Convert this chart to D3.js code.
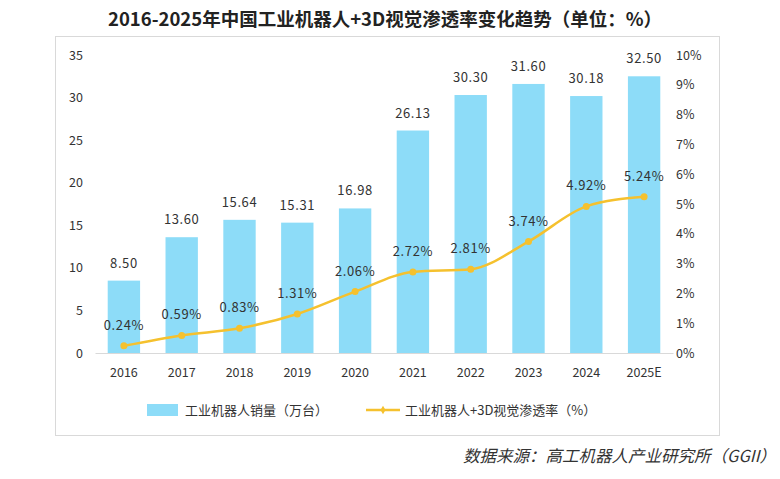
<!DOCTYPE html>
<html>
<head>
<meta charset="utf-8">
<title>工业机器人+3D视觉渗透率</title>
<script src="https://cdn.jsdelivr.net/npm/d3@7"></script>
<style>
  body { margin: 0; background: #fff; }
  text { font-family: "Noto Sans CJK SC", "Noto Sans", sans-serif; }
</style>
</head>
<body>
<script>
    // chart data
    var years = ["2016", "2017", "2018", "2019", "2020", "2021", "2022", "2023", "2024", "2025E"];
    var sales = [8.50, 13.60, 15.64, 15.31, 16.98, 26.13, 30.30, 31.60, 30.18, 32.50];
    var rate = [0.24, 0.59, 0.83, 1.31, 2.06, 2.72, 2.81, 3.74, 4.92, 5.24];
    var leftTicks = [0, 5, 10, 15, 20, 25, 30, 35];
    var rightTicks = [0, 1, 2, 3, 4, 5, 6, 7, 8, 9, 10];

    var width = 780, height = 479;
    var margins = {top: 55, left: 95, right: 107, bottom: 126};

    var barColor = "#8ddcf8", lineColor = "#f5c12e", textColor = "#333";

    var svg = d3.select("body").append("svg")
            .attr("width", width)
            .attr("height", height);

    // outer frame
    svg.append("rect")
            .attr("x", 55.5).attr("y", 36.5)
            .attr("width", 664).attr("height", 399)
            .attr("fill", "none")
            .attr("stroke", "#d9d9d9");

    svg.append("text")
            .attr("x", 385).attr("y", 26)
            .attr("text-anchor", "middle")
            .style("font-size", "18.5px")
            .style("font-weight", "bold")
            .attr("fill", "#222")
            .text("2016-2025年中国工业机器人+3D视觉渗透率变化趋势（单位：%）");

    var x = d3.scaleBand().domain(years)
            .range([margins.left, width - margins.right])
            .paddingInner(0.44).paddingOuter(0.22);
    var y = d3.scaleLinear().domain([0, 35]).range([height - margins.bottom, margins.top]);
    var y2 = d3.scaleLinear().domain([0, 10]).range([height - margins.bottom, margins.top]);

    var x0 = height - margins.bottom;

    // left axis
    var yAxis = svg.append("g")
            .attr("transform", "translate(" + (margins.left - 12) + ",0)")
            .call(d3.axisLeft(y).tickValues(leftTicks).tickSize(0).tickPadding(0));
    yAxis.select(".domain").remove();

    // right axis
    var y2Axis = svg.append("g")
            .attr("transform", "translate(" + (width - margins.right + 3) + ",0)")
            .call(d3.axisRight(y2).tickValues(rightTicks).tickSize(0).tickPadding(0)
                .tickFormat(function (d) { return d + "%"; }));
    y2Axis.select(".domain").remove();

    // x axis
    var xAxis = svg.append("g")
            .attr("transform", "translate(0," + x0 + ")")
            .call(d3.axisBottom(x).tickSize(0).tickPadding(15));
    xAxis.select(".domain").attr("stroke", "#d9d9d9");

    svg.selectAll(".tick text")
            .style("font-size", "12.5px")
            .attr("fill", textColor);

    // bars
    svg.append("g").selectAll("rect.bar")
            .data(sales)
            .enter().append("rect")
            .attr("class", "bar")
            .attr("x", function (d, i) { return x(years[i]); })
            .attr("y", function (d) { return y(d); })
            .attr("width", x.bandwidth())
            .attr("height", function (d) { return x0 - y(d); })
            .attr("fill", barColor);

    svg.append("g").selectAll("text")
            .data(sales)
            .enter().append("text")
            .attr("x", function (d, i) { return x(years[i]) + x.bandwidth() / 2; })
            .attr("y", function (d) { return y(d) - 13; })
            .attr("text-anchor", "middle")
            .style("font-size", "13px")
            .style("letter-spacing", "0.6px")
            .attr("fill", textColor)
            .text(function (d) { return d.toFixed(2); });

    // penetration line
    var line = d3.line()
            .x(function (d, i) { return x(years[i]) + x.bandwidth() / 2; })
            .y(function (d) { return y2(d); })
            .curve(d3.curveMonotoneX);

    svg.append("path")
            .datum(rate)
            .attr("d", line)
            .attr("fill", "none")
            .attr("stroke", lineColor)
            .attr("stroke-width", 2.5);

    svg.append("g").selectAll("circle")
            .data(rate)
            .enter().append("circle")
            .attr("cx", function (d, i) { return x(years[i]) + x.bandwidth() / 2; })
            .attr("cy", function (d) { return y2(d); })
            .attr("r", 3.5)
            .attr("fill", lineColor);

    svg.append("g").selectAll("text")
            .data(rate)
            .enter().append("text")
            .attr("x", function (d, i) { return x(years[i]) + x.bandwidth() / 2; })
            .attr("y", function (d) { return y2(d) - 16; })
            .attr("text-anchor", "middle")
            .style("font-size", "13px")
            .style("letter-spacing", "0.6px")
            .attr("fill", textColor)
            .text(function (d) { return d.toFixed(2) + "%"; });

    // legend
    var lg = svg.append("g").attr("transform", "translate(0,410)");
    lg.append("rect")
            .attr("x", 147).attr("y", -6)
            .attr("width", 31).attr("height", 12)
            .attr("fill", barColor);
    lg.append("text")
            .attr("x", 185).attr("y", 5)
            .style("font-size", "13px")
            .attr("fill", textColor)
            .text("工业机器人销量（万台）");
    lg.append("line")
            .attr("x1", 366).attr("x2", 400)
            .attr("y1", 0).attr("y2", 0)
            .attr("stroke", lineColor)
            .attr("stroke-width", 2.5);
    lg.append("path")
            .attr("d", d3.symbol(d3.symbolDiamond, 22)())
            .attr("transform", "translate(383,0)")
            .attr("fill", lineColor);
    lg.append("text")
            .attr("x", 405).attr("y", 5)
            .style("font-size", "13px")
            .attr("fill", textColor)
            .text("工业机器人+3D视觉渗透率（%）");

    // source
    svg.append("text")
            .attr("x", 776).attr("y", 462)
            .attr("text-anchor", "end")
            .style("font-size", "16.5px")
            .style("font-style", "italic")
            .attr("fill", "#333")
            .text("数据来源：高工机器人产业研究所（GGII）");
</script>
</body>
</html>
